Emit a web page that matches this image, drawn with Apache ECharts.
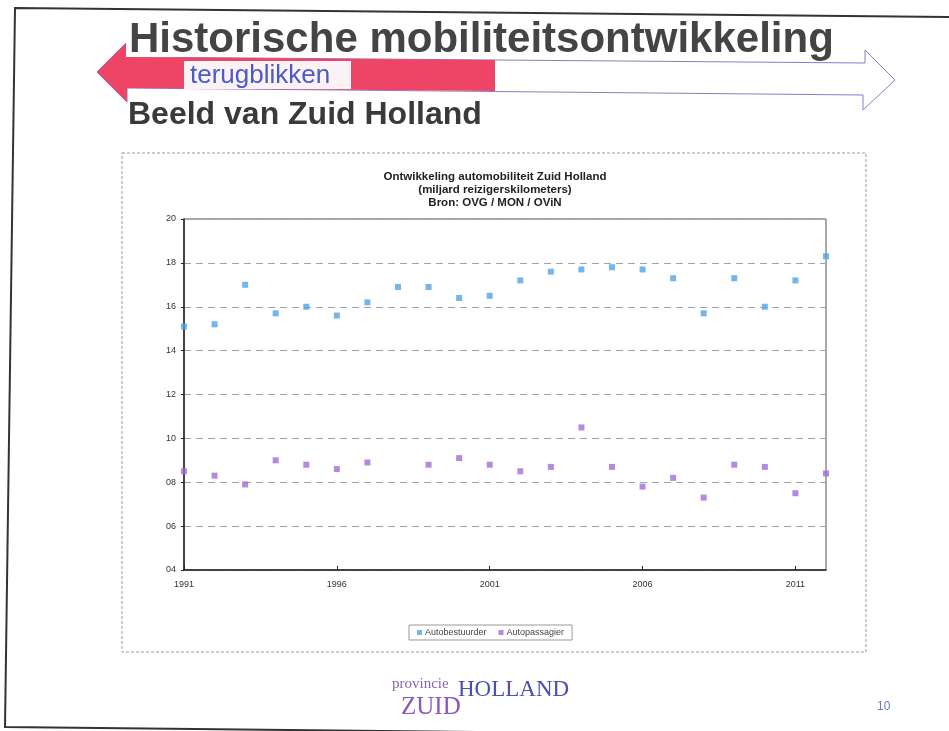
<!DOCTYPE html>
<html>
<head>
<meta charset="utf-8">
<title>Historische mobiliteitsontwikkeling</title>
<script src="https://cdn.jsdelivr.net/npm/echarts@6/dist/echarts.min.js"></script>
<style>
    html, body { margin: 0; padding: 0; background: #fff; }
    #main { width: 949px; height: 731px; }
</style>
</head>
<body>
<div id="main"></div>
<script>
// jaren op de x-as
const years = ['1991', '1992', '1993', '1994', '1995', '1996', '1997', '1998', '1999', '2000', '2001',
    '2002', '2003', '2004', '2005', '2006', '2007', '2008', '2009', '2010', '2011', '2012'];

// miljard reizigerskilometers
const autobestuurder = [15.1, 15.2, 17.0, 15.7, 16.0, 15.6, 16.2, 16.9, 16.9, 16.4, 16.5,
    17.2, 17.6, 17.7, 17.8, 17.7, 17.3, 15.7, 17.3, 16.0, 17.2, 18.3];
const autopassagier = [8.5, 8.3, 7.9, 9.0, 8.8, 8.6, 8.9, null, 8.8, 9.1, 8.8,
    8.5, 8.7, 10.5, 8.7, 7.8, 8.2, 7.3, 8.8, 8.7, 7.5, 8.4];

const seriesNames = ['Autobestuurder', 'Autopassagier'];
const chartTitle = 'Ontwikkeling automobiliteit Zuid Holland\n(miljard reizigerskilometers)\nBron: OVG / MON / OViN';

let chart = echarts.init(document.getElementById('main'), null, { renderer: 'canvas' });

const sans = '"Liberation Sans", Arial, sans-serif';
const serif = '"Liberation Serif", "DejaVu Serif", serif';

chart.setOption({
    backgroundColor: '#fff',
    animation: false,
    title: {
        text: chartTitle,
        left: 490,
        top: 165,
        textAlign: 'center',
        textStyle: {
            fontFamily: sans,
            fontSize: 11.5,
            fontWeight: 'bold',
            lineHeight: 13,
            color: '#222'
        }
    },
    legend: {
        data: seriesNames,
        left: 409,
        top: 625,
        icon: 'rect',
        itemWidth: 5,
        itemHeight: 5,
        itemGap: 12,
        padding: [3, 8],
        borderColor: '#999',
        borderWidth: 1,
        textStyle: { fontFamily: sans, fontSize: 9, color: '#444', padding: [0, 0, 0, -2] }
    },
    grid: {
        left: 184,
        right: 123,
        top: 219,
        bottom: 161,
        show: true,
        borderColor: '#555',
        borderWidth: 1
    },
    xAxis: {
        type: 'category',
        data: years,
        boundaryGap: false,
        axisLine: { lineStyle: { color: '#222', width: 1.5 } },
        axisTick: { interval: 4, length: 4, inside: true, lineStyle: { color: '#222' } },
        axisLabel: { interval: 4, fontFamily: sans, fontSize: 9, color: '#333', margin: 10 },
        splitLine: { show: false }
    },
    yAxis: {
        type: 'value',
        min: 4,
        max: 20,
        interval: 2,
        axisLine: { show: true, lineStyle: { color: '#222', width: 1.5 } },
        axisTick: { show: true, length: 3, lineStyle: { color: '#222' } },
        axisLabel: {
            fontFamily: sans, fontSize: 9, color: '#333', margin: 8,
            formatter: function (v) { return v < 10 ? '0' + v : '' + v; }
        },
        splitLine: { lineStyle: { color: '#a0a0ae', type: [7, 5], width: 1 } }
    },
    series: [
        {
            name: seriesNames[0],
            type: 'scatter',
            symbol: 'rect',
            symbolSize: 6,
            itemStyle: { color: '#52a3ea' },
            data: autobestuurder
        },
        {
            name: seriesNames[1],
            type: 'scatter',
            symbol: 'rect',
            symbolSize: 6,
            itemStyle: { color: '#a26dd6' },
            data: autopassagier
        }
    ],
    graphic: [
        // kader van de dia
        { type: 'polyline', z: 1, shape: { points: [[949, 17], [15, 8], [5, 727], [949, 737]] },
          style: { stroke: '#333', lineWidth: 2, fill: null } },
        // kader om de grafiek
        { type: 'rect', z: 1, shape: { x: 122, y: 153, width: 744, height: 499 },
          style: { fill: null, stroke: '#9a9a9a', lineWidth: 1, lineDash: [3, 2] } },
        // pijl: heel (wit met rand)
        { type: 'polygon', z: 2, shape: { points: [[97, 72], [127, 42], [127, 57], [865, 63], [865, 50],
              [895, 80], [863, 110], [863, 95], [127, 88], [127, 102]] },
          style: { fill: '#fff', stroke: '#8c7cc8', lineWidth: 1 } },
        // pijl: rood deel
        { type: 'polygon', z: 3, shape: { points: [[97, 72], [127, 42], [127, 57], [495, 60], [495, 91],
              [127, 88], [127, 102]] },
          style: { fill: '#ee4466', stroke: null } },
        // wit vlak achter de titel
        { type: 'rect', z: 4, shape: { x: 126, y: 20, width: 716, height: 37 }, style: { fill: '#fff' } },
        { type: 'text', z: 5, x: 129, y: 40,
          style: { text: 'Historische mobiliteitsontwikkeling', font: 'bold 42px ' + sans, fill: '#444',
                   textAlign: 'left', textVerticalAlign: 'middle' } },
        // terugblikken
        { type: 'rect', z: 4, shape: { x: 184, y: 61, width: 167, height: 28 }, style: { fill: '#fbf2f5' } },
        { type: 'text', z: 5, x: 190, y: 76,
          style: { text: 'terugblikken', font: '26px ' + sans, fill: '#4a5cc4',
                   textAlign: 'left', textVerticalAlign: 'middle' } },
        { type: 'text', z: 5, x: 128, y: 115,
          style: { text: 'Beeld van Zuid Holland', font: 'bold 32px ' + sans, fill: '#3a3a3a',
                   textAlign: 'left', textVerticalAlign: 'middle' } },
        // logo
        { type: 'text', z: 5, x: 392, y: 684,
          style: { text: 'provincie', font: '15px ' + serif, fill: '#8b62b8',
                   textAlign: 'left', textVerticalAlign: 'middle' } },
        { type: 'text', z: 5, x: 458, y: 690,
          style: { text: 'HOLLAND', font: '23px ' + serif, fill: '#4a4fb0',
                   textAlign: 'left', textVerticalAlign: 'middle' } },
        { type: 'text', z: 5, x: 401, y: 707,
          style: { text: 'ZUID', font: '25px ' + serif, fill: '#8c58c0',
                   textAlign: 'left', textVerticalAlign: 'middle' } },
        // paginanummer
        { type: 'text', z: 5, x: 877, y: 707,
          style: { text: '10', font: '12px ' + sans, fill: '#6a74c4',
                   textAlign: 'left', textVerticalAlign: 'middle' } }
    ]
});
</script>
</body>
</html>
